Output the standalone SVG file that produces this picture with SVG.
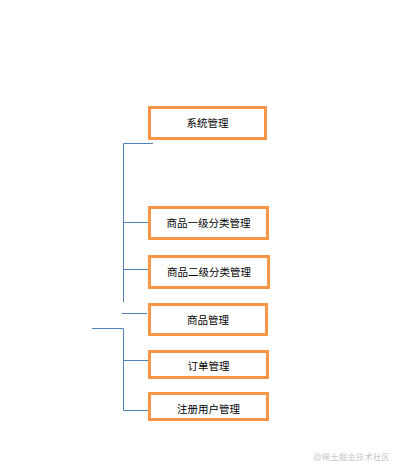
<svg xmlns="http://www.w3.org/2000/svg" width="402" height="475" viewBox="0 0 402 475">
<style>
.box{fill:#fff;stroke:#F79646;stroke-width:3}
.lbl{font-family:"Liberation Sans","Noto Sans CJK SC",sans-serif;font-size:10.5px;fill:#000;text-anchor:middle;dominant-baseline:central}
.ln{fill:none;stroke:#4F81BD;stroke-width:1}
.wm{font-family:"Liberation Sans","Noto Sans CJK SC",sans-serif;font-size:8.5px;fill:#c8c8c8}
</style>
<rect width="402" height="475" fill="#fff"/>
<g id="connectors">
<path class="ln" d="M153,143.5 H123.5 V302"/>
<path class="ln" d="M123.5,222.5 H148"/>
<path class="ln" d="M123.5,269.5 H148"/>
<path class="ln" d="M122,313.5 H147"/>
<path class="ln" d="M92,328.5 H123.5 V410.5 H148"/>
<path class="ln" d="M123.5,360.5 H148"/>
</g>
<g id="n1"><rect class="box" x="149.5" y="107.5" width="116" height="31"/><text class="lbl" x="207.5" y="123">系统管理</text></g>
<g id="n2"><rect class="box" x="149.5" y="207.5" width="118" height="31"/><text class="lbl" x="208.5" y="223">商品一级分类管理</text></g>
<g id="n3"><rect class="box" x="149.5" y="256.5" width="119" height="31"/><text class="lbl" x="209" y="272">商品二级分类管理</text></g>
<g id="n4"><rect class="box" x="149.5" y="304.5" width="117" height="30"/><text class="lbl" x="208" y="320">商品管理</text></g>
<g id="n5"><rect class="box" x="149.5" y="351.5" width="118" height="26"/><text class="lbl" x="208.5" y="366">订单管理</text></g>
<g id="n6"><rect class="box" x="149.5" y="393.5" width="118" height="26"/><text class="lbl" x="208.5" y="409">注册用户管理</text></g>
<text class="wm" x="313" y="460">@稀土掘金技术社区</text>
</svg>
